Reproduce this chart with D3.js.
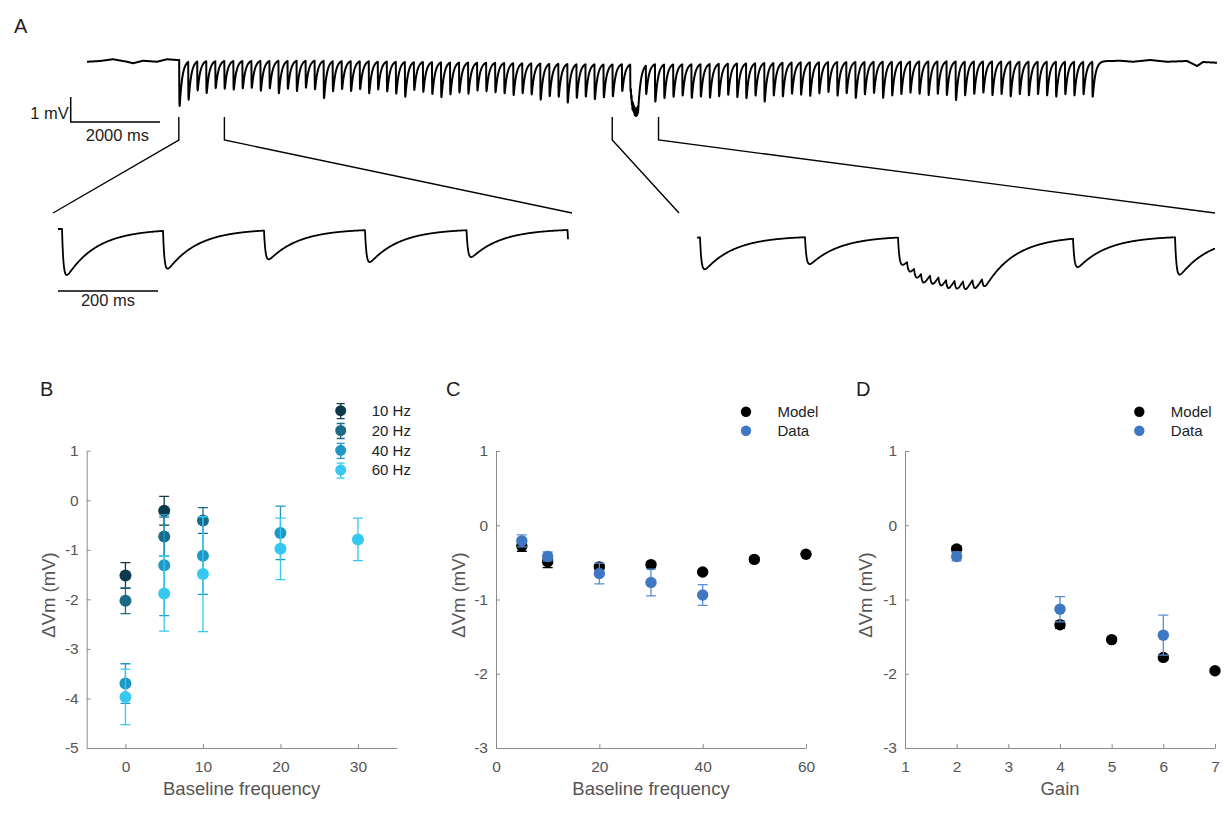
<!DOCTYPE html>
<html>
<head>
<meta charset="utf-8">
<script src="https://cdn.jsdelivr.net/npm/d3@7"></script>
<style>
  body { margin: 0; background: #fff; }
  svg text { font-family: "Liberation Sans", Arial, Helvetica, sans-serif; }
</style>
</head>
<body>
<div id="fig"></div>
<script>
// ---------- Panel A: recording ----------
// stimulus-evoked events, [time ms, amplitude mV]
const traceEvents = [
  [2064,1.84],[2266,1.52],[2468,1.16],[2670,1.28],[2873,1.08],[3075,1.12],[3277,1.15],[3479,1.10],
  [3681,1.08],[3883,1.20],[4085,1.10],[4287,1.30],[4490,1.12],[4692,1.22],[4894,1.08],[5096,1.15],
  [5298,1.50],[5500,1.20],[5702,1.12],[5904,1.20],[6107,1.12],[6309,1.28],[6511,1.12],[6713,1.20],
  [6915,1.28],[7117,1.40],[7319,1.12],[7521,1.20],[7724,1.28],[7926,1.40],[8128,1.28],[8330,1.20],
  [8532,1.25],[8734,1.12],[8936,1.15],[9138,1.18],[9341,1.22],[9543,1.28],[9745,1.20],[9947,1.25],
  [10149,1.45],[10351,1.30],[10553,1.32],[10755,1.55],[10958,1.35],[11160,1.30],[11362,1.40],[11564,1.32],
  [11766,1.28],[11976,1.08],[12162,1.10],[12512,1.15],
  [12716,1.50],[12920,1.35],[13124,1.30],[13328,1.25],[13532,1.35],[13736,1.30],[13940,1.35],[14144,1.30],
  [14348,1.25],[14552,1.35],[14756,1.40],[14960,1.30],[15164,1.55],[15368,1.30],[15572,1.35],[15776,1.25],
  [15980,1.30],[16184,1.35],[16388,1.25],[16592,1.20],[16796,1.35],[17000,1.25],[17204,1.45],[17408,1.30],
  [17612,1.25],[17816,1.45],[18020,1.35],[18224,1.30],[18428,1.25],[18632,1.30],[18836,1.35],[19040,1.30],
  [19244,1.35],[19448,1.55],[19652,1.35],[19856,1.30],[20060,1.25],[20264,1.35],[20468,1.30],[20672,1.40],
  [20876,1.30],[21080,1.35],[21284,1.30],[21488,1.35],[21692,1.40],[21896,1.30],[22100,1.35],[22304,1.30],
  [22508,1.40]
];
// spontaneous burst in the middle of the recording
const burstEvents = [
  [12180,0.5],[12194,0.5],[12208,0.5],[12226,0.5],[12243,0.5],
  [12258,0.5],[12275,0.5],[12292,0.5],[12311,0.5],[12330,0.45]
];
// slow baseline drift, [time ms, mV]
const baselineDrift = [
  [0,-0.03],[291,0],[582,0.07],[896,-0.03],[1030,-0.09],[1254,0.01],[1567,-0.03],[1791,0.07],
  [2015,0.04],[5000,0.06],[9000,-0.02],[11500,-0.08],[13500,-0.08],[16000,0],[19000,0.04],
  [22500,0.02],[22906,0],[23130,0.01],[23421,-0.03],[23802,0.04],[24182,-0.03],[24630,0],
  [24854,-0.2],[24989,-0.04],[25300,-0.07]
];
const traceSpan = [0, 25300];
const leftWindow = [2056, 3076];
const rightWindow = [11760, 12796];

// ---------- Panel B ----------
const bNames = ['10 Hz', '20 Hz', '40 Hz', '60 Hz'];
const bColors = ['#0c3a4c', '#1b6a86', '#1f98c4', '#36c8f0'];
const bX = [[0, 5], [0, 5, 10], [0, 5, 10, 20], [0, 5, 10, 20, 30]];
const bY = [[-1.52, -0.21], [-2.03, -0.73, -0.41], [-3.70, -1.31, -1.12, -0.66], [-3.97, -1.88, -1.49, -0.98, -0.79]];
const bErr = [[0.26, 0.29], [0.26, 0.39, 0.26], [0.40, 1.02, 0.78, 0.54], [0.56, 0.76, 1.16, 0.62, 0.43]];
const bXTicks = [0, 10, 20, 30];
const bYTicks = [1, 0, -1, -2, -3, -4, -5];

// ---------- Panel C ----------
const cModelX = [5, 10, 20, 30, 40, 50, 60];
const cModelY = [-0.28, -0.49, -0.56, -0.53, -0.63, -0.46, -0.39];
const cModelErr = [0.07, 0.08, 0.03, 0.03, 0.02, 0.02, 0.02];
const cDataX = [5, 10, 20, 30, 40];
const cDataY = [-0.21, -0.42, -0.65, -0.77, -0.94];
const cDataErr = [0.08, 0.06, 0.14, 0.18, 0.14];
const cXTicks = [0, 20, 40, 60];

// ---------- Panel D ----------
const dModelX = [2, 4, 5, 6, 7];
const dModelY = [-0.32, -1.34, -1.54, -1.78, -1.96];
const dModelErr = [0.04, 0.05, 0.02, 0.03, 0.02];
const dDataX = [2, 4, 6];
const dDataY = [-0.42, -1.13, -1.48];
const dDataErr = [0.06, 0.17, 0.27];
const dXTicks = [1, 2, 3, 4, 5, 6, 7];
const cdYTicks = [1, 0, -1, -2, -3];

const FONT = '"Liberation Sans", Arial, Helvetica, sans-serif';
const AXIS_GRAY = '#8c8c8c';
const TEXT_GRAY = '#555';
const MODEL_COLOR = '#000';
const DATA_COLOR = '#3f77c3';

const svg = d3.select('#fig').append('svg')
    .attr('width', 1225)
    .attr('height', 814);

// ================= Panel A =================
const tauRise = 3, tauDecay = 60;
const tPeak = Math.log(tauDecay / tauRise) * tauRise * tauDecay / (tauDecay - tauRise);
const kNorm = Math.exp(-tPeak / tauDecay) - Math.exp(-tPeak / tauRise);
function psp(s) {
  if (s < 0 || s > 700) return 0;
  return (Math.exp(-s / tauDecay) - Math.exp(-s / tauRise)) / kNorm;
}
const drift = d3.scaleLinear()
    .domain(baselineDrift.map(d => d[0]))
    .range(baselineDrift.map(d => d[1]))
    .clamp(true);
const allEvents = traceEvents.concat(burstEvents);
function vm(t) {
  let v = drift(t);
  for (const [te, a] of allEvents) v -= a * psp(t - te);
  return v;
}

const xMain = d3.scaleLinear().domain(traceSpan).range([87, 1217]);
const yMain = d3.scaleLinear().domain([0, -1]).range([61, 86]);
const xLeft = d3.scaleLinear().domain(leftWindow).range([58, 568]);
const yLeft = d3.scaleLinear().domain([0, -1]).range([230, 255]);
const xRight = d3.scaleLinear().domain(rightWindow).range([697, 1215]);
const yRight = d3.scaleLinear().domain([0, -1]).range([234, 259]);

const pA = svg.append('g').attr('class', 'panel-a');

function drawTrace(g, xs, ys, span, step, width) {
  const t = d3.range(span[0], span[1] + step, step);
  g.append('path')
      .datum(t)
      .attr('fill', 'none')
      .attr('stroke', '#000')
      .attr('stroke-width', width)
      .attr('stroke-linejoin', 'round')
      .attr('d', d3.line().x(d => xs(d)).y(d => ys(vm(d))));
}
drawTrace(pA, xMain, yMain, traceSpan, 2, 2);
drawTrace(pA, xLeft, yLeft, leftWindow, 1, 1.8);
drawTrace(pA, xRight, yRight, rightWindow, 1, 1.8);

pA.append('text').attr('x', 14).attr('y', 33)
    .attr('font-size', 20).attr('fill', '#222').text('A');

// scale bars
const barX = 70.7, barY = 122;
pA.append('path')
    .attr('fill', 'none').attr('stroke', '#000').attr('stroke-width', 1.5)
    .attr('d', `M${barX},${barY - (yMain(-1) - yMain(0))}V${barY}H${barX + xMain(2000) - xMain(0)}`);
pA.append('text').attr('x', barX - 2).attr('y', 119).attr('text-anchor', 'end')
    .attr('font-size', 16.5).attr('fill', '#222').text('1 mV');
pA.append('text').attr('x', barX + (xMain(2000) - xMain(0)) / 2 + 2).attr('y', 141).attr('text-anchor', 'middle')
    .attr('font-size', 16.5).attr('fill', '#222').text('2000 ms');
pA.append('line')
    .attr('x1', xLeft(leftWindow[0])).attr('x2', xLeft(leftWindow[0] + 200))
    .attr('y1', 291).attr('y2', 291)
    .attr('stroke', '#000').attr('stroke-width', 1.5);
pA.append('text').attr('x', (xLeft(leftWindow[0]) + xLeft(leftWindow[0] + 200)) / 2).attr('y', 306)
    .attr('text-anchor', 'middle').attr('font-size', 16.5).attr('fill', '#222').text('200 ms');

// zoom brackets
const zoomLines = [
  [xMain(leftWindow[0]), 53],
  [xMain(leftWindow[1]), 572],
  [xMain(rightWindow[0]), 679],
  [xMain(rightWindow[1]), 1215]
];
pA.selectAll('.zoom-line')
    .data(zoomLines)
  .join('path')
    .attr('class', 'zoom-line')
    .attr('fill', 'none').attr('stroke', '#000').attr('stroke-width', 1.4)
    .attr('d', d => `M${d[0]},117V140L${d[1]},213`);

// ================= Scatter panels =================
class ScatterPanel {
  constructor(_config) {
    this.config = _config;
    this.initVis();
  }

  initVis() {
    let vis = this;
    const c = vis.config;
    vis.g = svg.append('g').attr('class', 'panel-' + c.letter);

    vis.x = d3.scaleLinear().domain(c.xDomain).range([c.left, c.right]);
    vis.y = d3.scaleLinear().domain(c.yDomain).range([c.bottom, c.top]);

    const fmt = d => String(d);
    const xAxis = d3.axisBottom(vis.x).tickValues(c.xTicks).tickFormat(fmt)
        .tickSize(-4).tickSizeOuter(0).tickPadding(13);
    const yAxis = d3.axisLeft(vis.y).tickValues(c.yTicks).tickFormat(fmt)
        .tickSize(-4).tickSizeOuter(0).tickPadding(8);

    const gx = vis.g.append('g').attr('transform', `translate(0,${c.bottom})`).call(xAxis);
    const gy = vis.g.append('g').attr('transform', `translate(${c.left},0)`).call(yAxis);
    [gx, gy].forEach(a => {
      a.attr('font-family', FONT).attr('font-size', 15.5);
      a.select('.domain').attr('stroke', AXIS_GRAY);
      a.selectAll('.tick line').attr('stroke', AXIS_GRAY);
      a.selectAll('.tick text').attr('fill', TEXT_GRAY);
    });

    vis.g.append('text')
        .attr('x', (c.left + c.right) / 2).attr('y', 795)
        .attr('text-anchor', 'middle').attr('font-size', 18.5).attr('fill', TEXT_GRAY)
        .text(c.xLabel);
    vis.g.append('text')
        .attr('transform', `translate(${c.yLabelX},595) rotate(-90)`)
        .attr('text-anchor', 'middle').attr('dy', '0.35em')
        .attr('font-size', 18.5).attr('fill', TEXT_GRAY)
        .text('\u0394Vm (mV)');
    vis.g.append('text')
        .attr('x', c.letterX).attr('y', 396)
        .attr('font-size', 20).attr('fill', '#222')
        .text(c.letter);

    vis.renderVis();
  }

  renderVis() {
    let vis = this;
    const c = vis.config;

    c.series.forEach(s => {
      const pts = s.x.map((xv, i) => ({x: xv, y: s.y[i], e: s.err[i]}));
      const sg = vis.g.append('g');
      sg.selectAll('.err')
          .data(pts)
        .join('path')
          .attr('class', 'err')
          .attr('fill', 'none')
          .attr('stroke', s.errColor)
          .attr('stroke-width', 1.3)
          .attr('d', d => {
            const cx = vis.x(d.x), y1 = vis.y(d.y + d.e), y2 = vis.y(d.y - d.e);
            return `M${cx},${y1}V${y2}M${cx - 5},${y1}H${cx + 5}M${cx - 5},${y2}H${cx + 5}`;
          });
      sg.selectAll('.dot')
          .data(pts)
        .join('circle')
          .attr('class', 'dot')
          .attr('cx', d => vis.x(d.x))
          .attr('cy', d => vis.y(d.y))
          .attr('r', c.radius)
          .attr('fill', s.color);
    });

    // legend
    const leg = vis.g.append('g').attr('class', 'legend');
    const rows = leg.selectAll('.legend-row')
        .data(c.series)
      .join('g')
        .attr('class', 'legend-row')
        .attr('transform', (d, i) => `translate(${c.legendX},${c.legendY + i * c.legendDy})`);
    if (c.legendErr) {
      rows.append('path')
          .attr('fill', 'none').attr('stroke', d => d.errColor).attr('stroke-width', 1.3)
          .attr('d', 'M0,-7V8M-4,-7H4M-4,8H4');
    }
    rows.append('circle').attr('r', c.radius - 0.5).attr('fill', d => d.color);
    rows.append('text')
        .attr('x', c.legendTextDx).attr('dy', '0.35em')
        .attr('font-size', 15).attr('fill', '#222')
        .text(d => d.name);
  }
}

new ScatterPanel({
  letter: 'B', letterX: 40,
  left: 86.7, right: 396.7, top: 450.7, bottom: 748,
  xDomain: [-5, 35], yDomain: [-5, 1],
  xTicks: bXTicks, yTicks: bYTicks,
  xLabel: 'Baseline frequency', yLabelX: 49,
  radius: 6,
  series: bNames.map((n, i) => ({name: n, color: bColors[i], errColor: bColors[i], x: bX[i], y: bY[i], err: bErr[i]})),
  legendX: 340.7, legendY: 410.7, legendDy: 19.8, legendTextDx: 31, legendErr: true
});

new ScatterPanel({
  letter: 'C', letterX: 446,
  left: 496, right: 806, top: 451, bottom: 748,
  xDomain: [0, 60], yDomain: [-3, 1],
  xTicks: cXTicks, yTicks: cdYTicks,
  xLabel: 'Baseline frequency', yLabelX: 459,
  radius: 5.7,
  series: [
    {name: 'Model', color: MODEL_COLOR, errColor: MODEL_COLOR, x: cModelX, y: cModelY, err: cModelErr},
    {name: 'Data', color: DATA_COLOR, errColor: '#5a8fd4', x: cDataX, y: cDataY, err: cDataErr}
  ],
  legendX: 746, legendY: 411.7, legendDy: 19, legendTextDx: 31.5, legendErr: false
});

new ScatterPanel({
  letter: 'D', letterX: 856,
  left: 905, right: 1215, top: 451, bottom: 748,
  xDomain: [1, 7], yDomain: [-3, 1],
  xTicks: dXTicks, yTicks: cdYTicks,
  xLabel: 'Gain', yLabelX: 866,
  radius: 5.7,
  series: [
    {name: 'Model', color: MODEL_COLOR, errColor: MODEL_COLOR, x: dModelX, y: dModelY, err: dModelErr},
    {name: 'Data', color: DATA_COLOR, errColor: '#5a8fd4', x: dDataX, y: dDataY, err: dDataErr}
  ],
  legendX: 1139.3, legendY: 411.7, legendDy: 19, legendTextDx: 31.5, legendErr: false
});
</script>
</body>
</html>
